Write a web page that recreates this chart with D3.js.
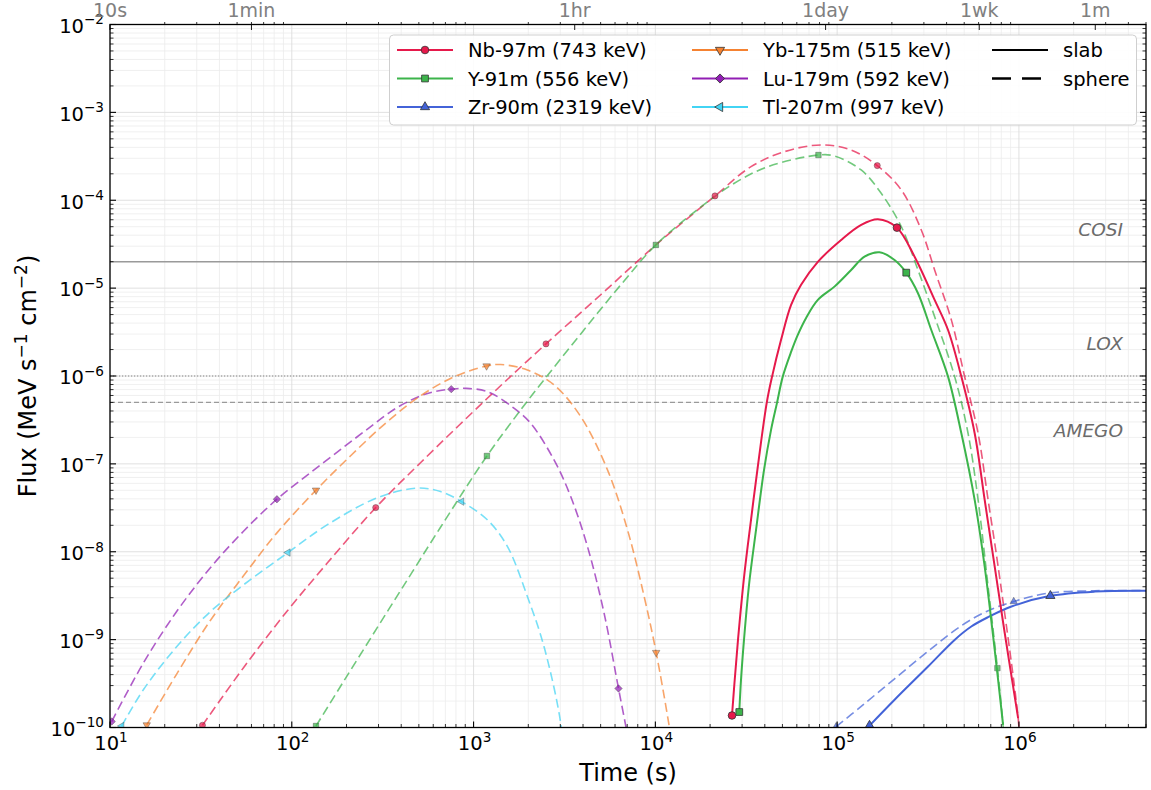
<!DOCTYPE html>
<html><head><meta charset="utf-8">
<script src="https://cdn.jsdelivr.net/npm/d3@7"></script>
<style>
body{margin:0;background:#fff}
svg{display:block}
text{font-family:"DejaVu Sans",sans-serif}
</style>
</head><body>
<svg id="c" width="1151" height="790"></svg>
<script>
// ---------------- DATA ----------------
const isotopeNames = ["Nb-97m (743 keV)", "Y-91m (556 keV)", "Zr-90m (2319 keV)",
                      "Yb-175m (515 keV)", "Lu-179m (592 keV)", "Tl-207m (997 keV)"];
const isotopeColors = ["#e6194b", "#3cb44b", "#4363d8", "#f58231", "#911eb4", "#42d4f4"];
const isotopeMarkers = ["circle", "square", "triUp", "triDown", "diamond", "triLeft"];

// sphere (dashed) curves: [time s, flux MeV s^-1 cm^-2]
const nbSphere = [[32.25,1.06e-10],[54.25,4.79e-10],[94.1,2.10e-9],[156.3,7.38e-9],[289.6,3.18e-8],[510.5,1.03e-7],[1190,5.58e-7],[2502,2.32e-6],[5008,8.41e-6],[10060,3.10e-5],[21280,1.12e-4],[33590,2.41e-4],[51240,3.57e-4],[81650,4.26e-4],[119400,3.73e-4],[166200,2.48e-4],[225300,1.31e-4],[290300,4.59e-5],[343700,1.61e-5],[424800,4.35e-6],[502700,9.84e-7],[596100,2.23e-7],[676700,3.89e-8],[768200,6.79e-9],[989900,1.28e-10],[1020000,5e-11]];
const ySphere = [[135.9,1.04e-10],[193.0,3.36e-10],[294.7,1.36e-9],[449.7,5.46e-9],[658.0,1.90e-8],[1184,1.23e-7],[1816,4.11e-7],[2440,9.03e-7],[3886,3.01e-6],[6455,1.09e-5],[10060,3.10e-5],[17810,8.39e-5],[27190,1.56e-4],[41520,2.41e-4],[78890,3.27e-4],[96630,3.19e-4],[135600,2.21e-4],[174700,1.20e-4],[225300,5.01e-5],[278400,1.61e-5],[343700,4.74e-6],[443000,9.84e-7],[524900,2.23e-7],[596100,3.89e-8],[676700,4.02e-9],[761300,4.74e-10],[818300,1.03e-10],[832000,5e-11]];
const zrSphere = [[98740,1.02e-10],[135600,1.74e-10],[206900,3.58e-10],[316000,7.36e-10],[482200,1.44e-9],[676700,2.13e-9],[936000,2.71e-9],[1448000,3.38e-9],[2616000,3.60e-9],[5150000,3.60e-9]];
const ybSphere = [[15.93,1.07e-10],[23.31,4.08e-10],[35.56,1.64e-9],[54.25,5.32e-9],[82.84,1.64e-8],[135.9,5.02e-8],[210.1,1.23e-7],[334.6,3.01e-7],[510.5,5.94e-7],[778.9,9.77e-7],[1179,1.30e-6],[1409,1.35e-6],[1977,1.17e-6],[2770,7.92e-7],[3886,3.45e-7],[5453,8.55e-8],[7029,1.77e-8],[8678,3.09e-9],[10100,7.13e-10],[11920,1.03e-10],[12330,6.3e-11]];
const luSphere = [[10.22,1.17e-10],[15.26,5.42e-10],[23.31,2.10e-9],[35.56,6.54e-9],[54.25,1.71e-8],[82.84,3.96e-8],[126.5,7.91e-8],[192.2,1.54e-7],[270.7,2.64e-7],[348.9,3.91e-7],[422.0,4.94e-7],[510.5,5.94e-7],[617.5,6.68e-7],[753.8,7.08e-7],[903.4,7.23e-7],[1190,6.65e-7],[1667,4.31e-7],[2061,2.90e-7],[2770,1.11e-7],[3422,4.25e-8],[4230,1.15e-8],[5223,2.0e-9],[6270,2.78e-10],[6879,1.03e-10],[7200,6e-11]];
const tlSphere = [[11.60,1.04e-10],[15.26,2.69e-10],[23.31,8.34e-10],[35.56,2.07e-9],[54.25,4.20e-9],[95.3,9.79e-9],[156.3,2.02e-8],[294.7,4.10e-8],[489.6,5.30e-8],[658.0,4.84e-8],[859,3.72e-8],[1190,2.31e-8],[1534,1.15e-8],[1977,3.09e-9],[2440,8.34e-10],[3015,1.12e-10],[3090,5e-11]];

// slab (solid) curves
const nbSlab = [[26400,1.37e-10],[27240,3.23e-10],[28480,9.95e-10],[30850,5.46e-9],[33590,2.31e-8],[36710,9.75e-8],[41000,4.98e-7],[43850,9.84e-7],[49150,2.58e-6],[55800,6.44e-6],[63340,1.09e-5],[78300,1.99e-5],[105200,3.53e-5],[135600,5.24e-5],[167600,6.08e-5],[213300,4.88e-5],[266700,2.28e-5],[343700,7.35e-6],[407400,3.34e-6],[482200,9.84e-7],[570800,2.23e-7],[648000,3.89e-8],[735700,6.79e-9],[835300,1.19e-9],[989900,1.28e-10]];
const ySlab = [[28950,1.50e-10],[29590,3.49e-10],[30730,9.95e-10],[32750,4.20e-9],[35790,1.77e-8],[39610,8.55e-8],[43290,2.44e-7],[46710,4.98e-7],[50210,9.84e-7],[55800,1.88e-6],[60750,2.94e-6],[67480,4.58e-6],[78300,7.35e-6],[96630,1.04e-5],[119400,1.61e-5],[141400,2.28e-5],[171000,2.56e-5],[206900,2.09e-5],[240000,1.50e-5],[278400,8.75e-6],[329500,3.34e-6],[407400,9.84e-7],[482200,2.23e-7],[570800,3.89e-8],[648000,6.79e-9],[735700,7.66e-10],[818300,1.07e-10]];
const zrSlab = [[150700,1.05e-10],[207000,2.07e-10],[316200,4.94e-10],[442600,9.93e-10],[547000,1.41e-9],[676100,1.80e-9],[909900,2.38e-9],[1489000,3.15e-9],[2618000,3.52e-9],[5150000,3.59e-9]];

// marker positions on curves
const nbSphereMarks = [[32.25,1.06e-10],[289.6,3.18e-8],[2502,2.32e-6],[21280,1.12e-4],[166200,2.48e-4]];
const ySphereMarks = [[135.9,1.04e-10],[1184,1.23e-7],[10060,3.10e-5],[78890,3.27e-4],[761300,4.74e-10]];
const zrSphereMarks = [[98740,1.02e-10],[936000,2.71e-9]];
const ybSphereMarks = [[15.93,1.07e-10],[135.9,5.02e-8],[1179,1.30e-6],[10100,7.13e-10]];
const luSphereMarks = [[10.22,1.17e-10],[82.84,3.96e-8],[753.8,7.08e-7],[6270,2.78e-10]];
const tlSphereMarks = [[11.60,1.04e-10],[95.3,9.79e-9],[859,3.72e-8]];
const nbSlabMarks = [[26400,1.37e-10],[213300,4.88e-5]];
const ySlabMarks = [[28950,1.50e-10],[240000,1.50e-5]];
const zrSlabMarks = [[150700,1.05e-10],[1489000,3.15e-9]];

// instrument sensitivity lines
const instrNames = ["COSI", "LOX", "AMEGO"];
const instrValues = [2e-5, 1e-6, 5e-7];

// axis ticks
const xTickExps = [1, 2, 3, 4, 5, 6];
const yTickExps = [-10, -9, -8, -7, -6, -5, -4, -3, -2];
const topTickLabels = ["10s", "1min", "1hr", "1day", "1wk", "1m"];
const topTickValues = [10, 60, 3600, 86400, 604800, 2629800];

// ---------------- LAYOUT ----------------
const L = 110, R = 1146, T = 24.5, B = 727.5;
const svg = d3.select("#c");
const x = d3.scaleLog().domain([10, 5e6]).range([L, R]);
const y = d3.scaleLog().domain([1e-10, 1e-2]).range([B, T]);

svg.append("defs").append("clipPath").attr("id", "clip")
  .append("rect").attr("x", L).attr("y", T).attr("width", R - L).attr("height", B - T);

const xMajor = xTickExps.map(e => Math.pow(10, e));
const xMinor = [];
for (let e = 1; e <= 6; e++) for (let m = 2; m <= 9; m++) { const v = m * Math.pow(10, e); if (v <= 5e6) xMinor.push(v); }
const yMajor = yTickExps.map(e => Math.pow(10, e));
const yMinor = [];
for (let e = -10; e < -2; e++) for (let m = 2; m <= 9; m++) yMinor.push(m * Math.pow(10, e));

// grid
const grid = svg.append("g");
grid.selectAll(".gxm").data(xMinor).enter().append("line")
  .attr("x1", d => x(d)).attr("x2", d => x(d)).attr("y1", T).attr("y2", B)
  .attr("stroke", "#ececec").attr("stroke-width", 0.8);
grid.selectAll(".gym").data(yMinor).enter().append("line")
  .attr("y1", d => y(d)).attr("y2", d => y(d)).attr("x1", L).attr("x2", R)
  .attr("stroke", "#ececec").attr("stroke-width", 0.8);
grid.selectAll(".gxM").data(xMajor).enter().append("line")
  .attr("x1", d => x(d)).attr("x2", d => x(d)).attr("y1", T).attr("y2", B)
  .attr("stroke", "#dcdcdc").attr("stroke-width", 0.9);
grid.selectAll(".gyM").data(yMajor).enter().append("line")
  .attr("y1", d => y(d)).attr("y2", d => y(d)).attr("x1", L).attr("x2", R)
  .attr("stroke", "#dcdcdc").attr("stroke-width", 0.9);

// instrument lines
const instrStyles = [
  {dash: null, w: 1.5, c: "#9a9a9a", ty: -33},
  {dash: "1.2,1.8", w: 1.1, c: "#888", ty: -33},
  {dash: "5,3", w: 1.3, c: "#9a9a9a", ty: 28}
];
instrValues.forEach((v, i) => {
  const s = instrStyles[i];
  svg.append("line").attr("x1", L).attr("x2", R).attr("y1", y(v)).attr("y2", y(v))
    .attr("stroke", s.c).attr("stroke-width", s.w).attr("stroke-dasharray", s.dash);
  svg.append("text").attr("x", 1123).attr("y", y(v) + s.ty + 7)
    .attr("text-anchor", "end").attr("font-style", "italic").attr("font-size", 18.5)
    .attr("fill", "#6b6b6b").text(instrNames[i]);
});

function markerPath(kind, size) {
  switch (kind) {
    case "circle": return {p: d3.symbol(d3.symbolCircle, size)(), r: 0};
    case "square": return {p: d3.symbol(d3.symbolSquare, size)(), r: 0};
    case "diamond": return {p: d3.symbol(d3.symbolSquare, size * 0.9)(), r: 45};
    case "triUp": return {p: d3.symbol(d3.symbolTriangle, size * 0.8)(), r: 0};
    case "triDown": return {p: d3.symbol(d3.symbolTriangle, size * 0.8)(), r: 180};
    case "triLeft": return {p: d3.symbol(d3.symbolTriangle, size * 0.8)(), r: -90};
  }
}

const line = d3.line().x(d => x(d[0])).y(d => y(d[1])).curve(d3.curveCatmullRom.alpha(0.5));
const plot = svg.append("g").attr("clip-path", "url(#clip)");

const sphereSeries = [nbSphere, ySphere, zrSphere, ybSphere, luSphere, tlSphere];
const sphereMarks = [nbSphereMarks, ySphereMarks, zrSphereMarks, ybSphereMarks, luSphereMarks, tlSphereMarks];
const slabSeries = [nbSlab, ySlab, zrSlab];
const slabMarks = [nbSlabMarks, ySlabMarks, zrSlabMarks];

const drawOrder = [4, 3, 5, 0, 1, 2];
drawOrder.forEach(i => {
  plot.append("path").datum(sphereSeries[i]).attr("d", line)
    .attr("fill", "none").attr("stroke", isotopeColors[i]).attr("stroke-width", 1.6)
    .attr("stroke-opacity", 0.72).attr("stroke-dasharray", "9,4.5");
});
drawOrder.forEach(i => {
  const m = markerPath(isotopeMarkers[i], 30);
  plot.selectAll(null).data(sphereMarks[i]).enter().append("path")
    .attr("d", m.p)
    .attr("transform", d => `translate(${x(d[0])},${y(d[1])}) rotate(${m.r})`)
    .attr("fill", isotopeColors[i]).attr("fill-opacity", 0.72)
    .attr("stroke", "#333").attr("stroke-opacity", 0.6).attr("stroke-width", 0.6);
});
[2, 1, 0].forEach(i => {
  plot.append("path").datum(slabSeries[i]).attr("d", line)
    .attr("fill", "none").attr("stroke", isotopeColors[i]).attr("stroke-width", 2);
});
[2, 1, 0].forEach(i => {
  const m = markerPath(isotopeMarkers[i], 46);
  plot.selectAll(null).data(slabMarks[i]).enter().append("path")
    .attr("d", m.p)
    .attr("transform", d => `translate(${x(d[0])},${y(d[1])}) rotate(${m.r})`)
    .attr("fill", isotopeColors[i]).attr("stroke", "#333").attr("stroke-width", 0.8);
});

// frame
svg.append("rect").attr("x", L).attr("y", T).attr("width", R - L).attr("height", B - T)
  .attr("fill", "none").attr("stroke", "#000").attr("stroke-width", 1.3);

const ticks = svg.append("g").attr("stroke", "#000");
xMajor.forEach(v => ticks.append("line").attr("x1", x(v)).attr("x2", x(v)).attr("y1", B).attr("y2", B - 6).attr("stroke-width", 1.1));
xMinor.forEach(v => ticks.append("line").attr("x1", x(v)).attr("x2", x(v)).attr("y1", B).attr("y2", B - 3.5).attr("stroke-width", 0.8));
xMinor.forEach(v => ticks.append("line").attr("x1", x(v)).attr("x2", x(v)).attr("y1", T).attr("y2", T - 2.5).attr("stroke-width", 0.8));
topTickValues.forEach(v => ticks.append("line").attr("x1", x(v)).attr("x2", x(v)).attr("y1", T).attr("y2", T + 5.5).attr("stroke-width", 0.9));
yMajor.forEach(v => {
  ticks.append("line").attr("x1", L).attr("x2", L + 6).attr("y1", y(v)).attr("y2", y(v)).attr("stroke-width", 1.1);
  ticks.append("line").attr("x1", R).attr("x2", R - 6).attr("y1", y(v)).attr("y2", y(v)).attr("stroke-width", 1.1);
});
yMinor.forEach(v => {
  ticks.append("line").attr("x1", L).attr("x2", L + 3.5).attr("y1", y(v)).attr("y2", y(v)).attr("stroke-width", 0.8);
  ticks.append("line").attr("x1", R).attr("x2", R - 3.5).attr("y1", y(v)).attr("y2", y(v)).attr("stroke-width", 0.8);
});

// tick labels
const FS = 19.5;
function powLabel(sel, exp) {
  sel.append("tspan").text("10");
  sel.append("tspan").attr("dy", -8.5).attr("font-size", 13.6).text(String(exp).replace("-", "\u2212"));
}
xTickExps.forEach(e => {
  const t = svg.append("text").attr("x", x(Math.pow(10, e)) + 1).attr("y", 750)
    .attr("text-anchor", "middle").attr("font-size", FS).attr("fill", "#000");
  powLabel(t, e);
});
yTickExps.forEach(e => {
  const t = svg.append("text").attr("x", 104).attr("y", y(Math.pow(10, e)) + 8.3)
    .attr("text-anchor", "end").attr("font-size", FS).attr("fill", "#000");
  powLabel(t, e);
});
topTickLabels.forEach((lab, i) => {
  svg.append("text").attr("x", x(topTickValues[i])).attr("y", 17)
    .attr("text-anchor", "middle").attr("font-size", 19).attr("fill", "#808080").text(lab);
});

// axis titles
svg.append("text").attr("x", (L + R) / 2).attr("y", 781).attr("text-anchor", "middle")
  .attr("font-size", 24).text("Time (s)");
const yl = svg.append("text").attr("transform", `translate(36,${(T + B) / 2}) rotate(-90)`)
  .attr("text-anchor", "middle").attr("font-size", 24);
yl.append("tspan").text("Flux (MeV s");
yl.append("tspan").attr("dy", -9).attr("font-size", 17).text("\u22121");
yl.append("tspan").attr("dy", 9).text(" cm");
yl.append("tspan").attr("dy", -9).attr("font-size", 17).text("\u22122");
yl.append("tspan").attr("dy", 9).text(")");

// legend
const lg = svg.append("g");
lg.append("rect").attr("x", 389.5).attr("y", 35).attr("width", 747).attr("height", 90).attr("rx", 4)
  .attr("fill", "#fff").attr("fill-opacity", 0.9).attr("stroke", "#cfcfcf").attr("stroke-width", 1);
const colX = [397, 692, 992];
const rowY = [50, 78.5, 107];
isotopeNames.forEach((name, i) => {
  const cx = colX[Math.floor(i / 3)], cy = rowY[i % 3];
  lg.append("line").attr("x1", cx).attr("x2", cx + 56).attr("y1", cy).attr("y2", cy)
    .attr("stroke", isotopeColors[i]).attr("stroke-width", 2);
  const m = markerPath(isotopeMarkers[i], 46);
  lg.append("path").attr("d", m.p).attr("transform", `translate(${cx + 28},${cy}) rotate(${m.r})`)
    .attr("fill", isotopeColors[i]).attr("stroke", "#333").attr("stroke-width", 0.8);
  lg.append("text").attr("x", cx + 71).attr("y", cy + 7).attr("font-size", 19.5).text(name);
});
const geoNames = ["slab", "sphere"];
const geoDash = [null, "19,11"];
geoNames.forEach((g, i) => {
  const cy = rowY[i];
  lg.append("line").attr("x1", colX[2]).attr("x2", colX[2] + 56).attr("y1", cy).attr("y2", cy)
    .attr("stroke", "#000").attr("stroke-width", i ? 2.6 : 2).attr("stroke-dasharray", geoDash[i]);
  lg.append("text").attr("x", colX[2] + 71).attr("y", cy + 7).attr("font-size", 19.5).text(g);
});
</script>
</body></html>
